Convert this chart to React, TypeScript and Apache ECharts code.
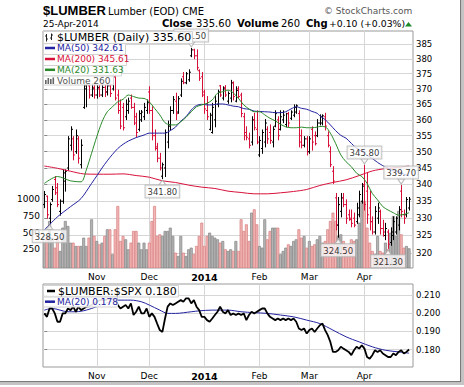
import React, { useEffect, useRef } from 'react';
import * as echarts from 'echarts';

const FONT = 'DejaVu Sans';

// x axis: trading-day index (Oct 4 2013 = 0 ... Apr 25 2014 = 139)
const monthTickIdx = [20, 40, 61, 82, 101, 122];
const monthTickLabels = ['Nov', 'Dec', '2014', 'Feb', 'Mar', 'Apr'];
const priceTicks = [320, 325, 330, 335, 340, 345, 350, 355, 360, 365, 370, 375, 380, 385];
const volumeTicks = [250, 500, 750, 1000];
const ratioTicks = [0.18, 0.19, 0.2, 0.21];

const opens = [
  334, 336.5, 330, 335.5, 341.5, 339, 332, 335, 341, 345,
  352, 354, 350, 354, 346, 364, 370, 371, 368, 370.5,
  368, 370, 368, 370.5, 369, 371, 370, 374, 368, 365,
  364, 361, 363, 367, 364, 361, 357, 360, 361, 363,
  369, 363, 355, 351, 348, 342.5, 345, 353, 358, 363,
  366, 362.5, 368, 374, 372, 373, 381, 383, 381, 376,
  374, 369, 363, 357, 356, 360, 365, 371, 367, 370.5,
  366, 367, 372, 366, 370, 368, 361, 356, 354, 353,
  360, 357, 349, 351, 353, 357, 356, 353, 358, 360,
  357, 360, 358.5, 362, 360.5, 361.5, 362.5, 362, 355, 352,
  354, 350, 357, 355, 355, 359, 359, 361, 355, 350,
  344, 336, 328, 332, 336, 334, 331, 330, 330, 329,
  331, 335, 340, 338, 333, 329, 326, 330, 332, 327,
  325, 326, 323, 325, 326, 328, 338, 331, 331, 333,
];
const highs = [
  337.9, 336.5, 334.5, 339.4, 342.4, 340.3, 335.4, 344.4, 344.4, 354.7,
  357.8, 354.7, 356.8, 354.7, 353.7, 371.7, 372.3, 371.1, 371.7, 371.7,
  371.1, 371.1, 371.7, 371.1, 371.7, 371.7, 374.6, 374.6, 369.6, 366.4,
  365.3, 366.4, 367, 368, 365.3, 362.1, 362.9, 363, 365.3, 366.4,
  370.7, 364.2, 356.8, 352.6, 349.5, 346.5, 356.8, 359.6, 364.2, 367.5,
  368.6, 367.5, 373.3, 375.4, 375.4, 376.3, 383.5, 383.2, 383, 376.3,
  375.4, 369.6, 367.5, 362.1, 365.3, 367.5, 369.6, 371.1, 370.7, 371.1,
  369, 372.8, 372.3, 370.7, 370.7, 368.6, 362.1, 357.8, 355.8, 361,
  362.1, 362.9, 354.7, 356.8, 360.1, 357.8, 358.4, 357.8, 362.9, 361,
  362.9, 362.9, 362.1, 362.4, 362.9, 364.8, 364.8, 362.9, 356.8, 354.7,
  354.7, 354.7, 357.8, 356.2, 360.1, 361.6, 361.6, 362.1, 356.2, 351.5,
  345.4, 337.3, 336.1, 337.3, 337.3, 335.4, 332.4, 332.4, 331.5, 334.4,
  338, 340.3, 345.8, 343.4, 338, 330.4, 333.4, 334.4, 332.4, 329.4,
  328.5, 326.6, 327.2, 330.4, 330.4, 333.4, 339.7, 332.4, 336.1, 336.1,
];
const lows = [
  333.1, 330, 328.5, 335, 337, 333.4, 330.9, 334.4, 338, 344.4,
  350.5, 347.5, 349.5, 346.5, 345, 363.7, 364.2, 367, 367.5, 367,
  367, 367.5, 367.5, 367.5, 368, 367.5, 369.6, 366.4, 362.1, 357.2,
  356.8, 360.1, 362.1, 363.7, 358.5, 354.7, 356.5, 359.5, 360.1, 362.1,
  362.1, 353.7, 350.5, 346.9, 344.4, 341.8, 342.4, 351.2, 356.8, 362.1,
  360.1, 362.1, 367.5, 371.7, 371.7, 372.5, 380.7, 380, 376.3, 372.8,
  367.5, 362.1, 360.1, 356.8, 355.8, 357.8, 364.2, 367.5, 366.4, 367.5,
  365.3, 365.8, 366.4, 365.8, 367, 361, 353.7, 353.7, 351.2, 352.1,
  356.8, 352.5, 348.5, 349.5, 351.5, 352.6, 352.6, 351.5, 357.8, 353.7,
  356.8, 359.1, 357.8, 357.8, 360.1, 361, 362.1, 351.5, 351.2, 351.5,
  349, 349.5, 350.5, 352.1, 354.7, 358.4, 358.4, 356.8, 351.5, 345.4,
  340.3, 326.6, 324.5, 330.4, 333.4, 328.5, 329.4, 327.5, 327.5, 328.5,
  330.4, 334.4, 332.4, 328.5, 326.6, 325.4, 325.4, 328.5, 325.4, 324.8,
  323.8, 321.3, 322.2, 323.8, 325.4, 326.6, 330.4, 328.5, 330.4, 332.4,
];
const closes = [
  337, 331, 334, 338.5, 337.5, 334, 335, 343.5, 344, 354,
  357, 349, 355, 348, 352, 371, 371.5, 368, 370, 368,
  370.5, 368, 370.5, 369, 371, 368.5, 374, 367, 363, 358,
  357.5, 365, 366, 364, 359, 356, 362, 362.5, 364, 365.5,
  363, 355, 351.5, 348, 345, 346, 356, 358.5, 363, 366.5,
  362, 366.8, 372.5, 372, 375, 375.5, 383, 381, 377, 373.5,
  368, 363.5, 361, 361.5, 364, 366, 369, 368, 370, 368,
  368.5, 372, 367.5, 369.5, 367.5, 362, 355, 354.5, 352, 360,
  357.5, 353, 353.5, 356, 359, 354, 353.5, 357, 362, 355,
  361, 361.5, 362, 359, 362.5, 364, 364.5, 353, 352, 354,
  350, 354, 353, 352.5, 359, 361, 361.3, 358, 352, 346,
  341, 328, 334, 336, 334, 330, 329.6, 328.5, 328, 333,
  337, 339.5, 334, 331, 329, 326, 332, 333, 327, 326,
  327, 322.5, 326, 329, 330, 332.5, 332, 330, 335.5, 335.6,
];
const volumes = [
  370, 420, 670, 420, 270, 420, 220, 570, 670, 595,
  345, 345, 295, 295, 295, 420, 295, 420, 695, 445,
  370, 320, 345, 445, 545, 545, 170, 545, 895, 370,
  445, 395, 245, 345, 520, 520, 345, 245, 345, 245,
  345, 670, 895, 445, 470, 445, 520, 520, 570, 445,
  195, 145, 445, 195, 145, 245, 270, 170, 295, 445,
  645, 295, 445, 495, 445, 420, 395, 345, 370, 245,
  220, 245, 220, 370, 220, 695, 520, 620, 370, 795,
  845, 620, 295, 270, 695, 395, 520, 570, 570, 570,
  170, 220, 270, 320, 295, 370, 395, 545, 420, 445,
  270, 370, 295, 320, 395, 445, 345, 370, 545, 670,
  795, 670, 445, 470, 370, 320, 320, 395, 370, 395,
  645, 970, 970, 570, 345, 220, 170, 445, 220, 195,
  345, 245, 495, 745, 445, 820, 470, 270, 295, 260,
];
// moving averages: [trading-day index, value]
const ma20 = [
  [0, 340.3], [5, 342.4], [10, 341.1], [14, 340.8], [16, 344.4], [18, 349.5], [20, 354.7],
  [22, 359.4], [24, 362.6], [26, 364.2], [28, 365.8], [30, 366.6], [32, 368.0], [34, 367.5],
  [36, 367.0], [38, 366.9], [40, 365.8], [42, 363.7], [44, 361.6], [46, 359.1], [48, 358.4],
  [50, 358.4], [52, 359.4], [54, 360.8], [56, 362.6], [58, 364.2], [60, 364.8], [62, 365.3],
  [64, 366.4], [66, 368.6], [68, 369.1], [70, 369.6], [72, 368.7], [74, 366.9], [76, 364.8],
  [78, 363.5], [80, 362.6], [82, 362.6], [84, 361.6], [86, 360.5], [88, 359.7], [90, 358.6],
  [92, 357.8], [94, 357.5], [96, 357.5], [98, 357.7], [100, 357.5], [102, 357.5], [104, 357.7],
  [105, 357.9], [107, 357.8], [109, 355.8], [111, 352.6], [113, 349.0], [115, 346.9],
  [117, 345.4], [119, 343.4], [121, 342.4], [123, 340.3], [125, 337.3], [127, 335.4],
  [129, 333.4], [131, 332.4], [133, 331.6], [135, 330.9], [137, 331.1], [139, 331.63],
];
const ma50 = [
  [0, 326.6], [5, 330.4], [10, 333.4], [14, 335.8], [18, 340.3], [20, 342.6], [22, 345.0],
  [24, 347.2], [26, 349.2], [28, 351.0], [30, 352.3], [32, 353.3], [35, 354.4], [38, 355.2],
  [40, 355.8], [44, 355.8], [46, 355.8], [48, 356.6], [50, 357.7], [52, 359.6], [54, 361.0],
  [56, 363.2], [58, 364.6], [60, 365.0], [62, 364.8], [64, 364.8], [66, 365.1], [68, 365.1],
  [70, 364.8], [72, 364.4], [74, 364.2], [76, 363.6], [78, 363.4], [80, 362.8], [82, 362.7],
  [84, 362.6], [86, 362.5], [88, 362.3], [90, 362.3], [92, 362.6], [94, 363.5], [96, 364.2],
  [98, 363.7], [100, 363.4], [102, 362.7], [104, 362.1], [105, 361.3], [107, 360.1],
  [109, 358.4], [111, 356.6], [113, 355.1], [115, 354.2], [117, 352.6], [119, 351.1],
  [121, 350.1], [123, 348.9], [125, 347.9], [127, 346.7], [129, 345.7], [131, 344.9],
  [133, 344.2], [135, 343.9], [137, 343.1], [139, 342.61],
];
const ma200 = [
  [0, 345.6], [5, 344.9], [10, 344.0], [15, 343.2], [20, 343.1], [25, 343.1], [30, 343.2],
  [35, 342.7], [40, 342.2], [45, 341.1], [50, 340.6], [55, 339.8], [60, 339.2], [65, 338.8],
  [70, 338.0], [75, 337.6], [80, 337.2], [85, 337.2], [90, 337.5], [95, 337.9], [100, 338.5],
  [105, 339.7], [110, 340.6], [115, 341.4], [120, 342.7], [125, 344.1], [130, 344.8],
  [135, 345.2], [139, 345.61],
];
const ratio = [
  0.1999, 0.198, 0.2026, 0.2026, 0.1999, 0.1953, 0.1953, 0.1999, 0.1999, 0.2026,
  0.2017, 0.2036, 0.2008, 0.2036, 0.2017, 0.2026, 0.2036, 0.2039, 0.2045, 0.2054,
  0.2063, 0.2072, 0.2072, 0.2072, 0.2076, 0.2082, 0.2082, 0.2072, 0.2045, 0.2026,
  0.2036, 0.2045, 0.2026, 0.2054, 0.199, 0.2008, 0.2036, 0.1999, 0.1999, 0.2026,
  0.198, 0.1999, 0.198, 0.1943, 0.1907, 0.1897, 0.1971, 0.2036, 0.2054, 0.2045,
  0.2054, 0.2063, 0.2072, 0.2063, 0.2082, 0.2082, 0.2054, 0.2072, 0.2036, 0.2017,
  0.198, 0.198, 0.1962, 0.1953, 0.1971, 0.199, 0.2008, 0.2036, 0.2008, 0.1999,
  0.2017, 0.199, 0.1999, 0.199, 0.1999, 0.199, 0.1999, 0.1962, 0.199, 0.2008,
  0.1999, 0.2008, 0.2017, 0.2026, 0.2026, 0.1999, 0.198, 0.1971, 0.1962, 0.1971,
  0.1962, 0.1971, 0.1962, 0.1971, 0.1962, 0.1971, 0.1953, 0.1916, 0.1907, 0.1916,
  0.1888, 0.1907, 0.1916, 0.1897, 0.1916, 0.1934, 0.1943, 0.1907, 0.1879, 0.1842,
  0.1787, 0.1787, 0.1796, 0.1815, 0.1805, 0.1796, 0.1787, 0.1769, 0.1796, 0.1815,
  0.1805, 0.1824, 0.1805, 0.1759, 0.175, 0.1769, 0.1796, 0.1787, 0.1796, 0.1778,
  0.1769, 0.1759, 0.1759, 0.1778, 0.1769, 0.1787, 0.1796, 0.1778, 0.1787, 0.18,
];
const ratioMa20 = [
  [0, 0.2017], [3, 0.2026], [9, 0.2008], [12, 0.2008], [16, 0.2017], [20, 0.2036],
  [28, 0.2072], [33, 0.2072], [37, 0.2063], [40, 0.2045], [44, 0.2017], [47, 0.1999],
  [50, 0.1999], [56, 0.2008], [59, 0.2013], [64, 0.2017], [70, 0.2017], [75, 0.2008],
  [80, 0.2003], [85, 0.1999], [90, 0.199], [95, 0.198], [100, 0.1962], [105, 0.1943],
  [110, 0.1907], [115, 0.187], [120, 0.1842], [125, 0.1815], [130, 0.1796], [135, 0.1787],
  [139, 0.178],
];
const highLabelIdx = [56, 122, 136];
const lowLabelIdx = [2, 45, 112, 131];

const PRICE_MIN = 315.78;
const PRICE_MAX = 389.45;
const VOL_MIN = -30;
const VOL_MAX = 3525;
const RATIO_MIN = 0.17039;
const RATIO_MAX = 0.21608;

const C_UP = '#000000';
const C_DOWN = '#d8113a';
const C_MA50 = '#2323a0';
const C_MA200 = '#d8113a';
const C_MA20 = '#2a8a2a';
const GRIDLINE = '#d6d6d6';

const L = Math.log;

function xAxisFor(gridIndex: number) {
  return {
    type: 'value',
    gridIndex,
    min: -0.5,
    max: 140.5,
    axisLine: { show: false },
    axisTick: { show: false, customValues: monthTickIdx },
    axisLabel: {
      customValues: monthTickIdx,
      margin: 4,
      fontSize: 9,
      fontFamily: FONT,
      color: '#000',
      formatter: (v: number) => {
        const k = monthTickIdx.indexOf(Math.round(v));
        if (k < 0) return '';
        const s = monthTickLabels[k];
        return s === '2014' ? '{b|2014}' : s;
      },
      rich: { b: { fontWeight: 'bold', fontSize: 9.5, fontFamily: FONT, color: '#000' } },
    },
    splitLine: { show: true, lineStyle: { color: GRIDLINE, width: 1 } },
  };
}

function txt(x: number, y: number, s: string, size: number, color = '#000', weight = 'normal', family = FONT) {
  return {
    type: 'text',
    z: 100,
    x,
    y,
    style: {
      text: s,
      fill: color,
      font: `${weight} ${size}px "${family}"`,
      align: 'left',
      verticalAlign: 'middle',
      textAlign: 'left',
      textVerticalAlign: 'middle',
    },
  };
}
function box(x: number, y: number, w: number, h: number) {
  return {
    type: 'rect',
    z: 99,
    shape: { x, y, width: w, height: h },
    style: { fill: 'rgba(255,255,255,0.88)', stroke: '#d2d2d2', lineWidth: 1 },
  };
}
function ln(x1: number, y1: number, x2: number, y2: number, color: string, width = 1) {
  return { type: 'line', z: 100, shape: { x1, y1, x2, y2 }, style: { stroke: color, lineWidth: width } };
}
function solid(x: number, y: number, w: number, h: number, fill: string, z = 100) {
  return { type: 'rect', z, shape: { x, y, width: w, height: h }, style: { fill } };
}

function buildOption() {
  const ohlcData = closes.map((c, i) => [
    i, L(opens[i]), L(highs[i]), L(lows[i]), L(c), i === 0 || c >= closes[i - 1] ? 1 : 0,
  ]);
  const volData = volumes.map((v, i) => [i, v, i === 0 || closes[i] >= closes[i - 1] ? 1 : 0]);
  const maLine = (name: string, arr: number[][], color: string) => ({
    name,
    type: 'line',
    xAxisIndex: 0,
    yAxisIndex: 0,
    data: arr.map(([i, v]) => [i, L(v)]),
    showSymbol: false,
    symbol: 'none',
    smooth: 0.3,
    lineStyle: { color, width: 1 },
    z: 4,
    silent: true,
  });
  const labelStyle = {
    show: true,
    fontSize: 8.5,
    fontFamily: FONT,
    color: '#000',
    backgroundColor: 'rgba(255,255,255,0.92)',
    borderColor: '#b4b4b4',
    borderWidth: 1,
    padding: [2, 2, 1, 2],
    formatter: (p: any) => Number(p.value[2]).toFixed(2),
  };

  const graphicEls: any[] = [
    // header
    txt(43, 10.5, '$LUMBER', 13, '#000', 'bold', 'Liberation Sans'),
    txt(108, 11, 'Lumber (EOD) CME', 10),
    txt(43, 23.8, '25-Apr-2014', 9),
    txt(162, 23.8, 'Close', 10, '#000', 'bold'),
    txt(196, 23.8, '335.60', 10),
    txt(237, 23.8, 'Volume', 10, '#000', 'bold'),
    txt(281, 23.8, '260', 10),
    txt(306, 23.8, 'Chg', 10, '#000', 'bold'),
    txt(329, 23.8, '+0.10 (+0.03%)', 9.3),
    { type: 'polygon', z: 100, shape: { points: [[405, 26.5], [412, 26.5], [408.5, 22]] }, style: { fill: '#1f8a2a' } },
    txt(324, 11, '\u00A9 StockCharts.com', 9, '#555'),
    // main legend
    box(43.5, 31.5, 149, 12),
    ln(46.5, 34, 46.5, 41.5, '#222'), ln(45, 36, 46.5, 36, '#222'), ln(46.5, 39, 48, 39, '#222'),
    ln(51.5, 33.5, 51.5, 40, '#222'), ln(50, 38, 51.5, 38, '#222'), ln(51.5, 35, 53, 35, '#222'),
    txt(57, 37.8, '$LUMBER (Daily) 335.60', 11),
    box(43.5, 43.5, 82, 11),
    ln(45, 48, 55, 48, C_MA50, 2.5),
    txt(57, 48.3, 'MA(50) 342.61', 9, C_MA50),
    box(43.5, 54.5, 83, 11),
    ln(45, 59, 55, 59, C_MA200, 2.5),
    txt(57, 59.2, 'MA(200) 345.61', 9, C_MA200),
    box(43.5, 65.5, 78, 10.5),
    ln(45, 69.8, 55, 69.8, C_MA20, 2.5),
    txt(57, 70, 'MA(20) 331.63', 9, C_MA20),
    box(43.5, 76, 70, 9),
    solid(45, 80, 1.6, 4, '#666'), solid(47.5, 78, 1.6, 6, '#666'), solid(50, 79, 1.6, 5, '#666'), solid(52.5, 77.5, 1.6, 6.5, '#666'),
    txt(57, 80.5, 'Volume 260', 9, '#555'),
    // lower legend
    box(43.5, 285.5, 135, 11.5),
    ln(47, 291, 55, 291, '#000', 2.5),
    txt(58, 291.3, '$LUMBER:$SPX 0.180', 11),
    box(43.5, 297, 74, 10),
    ln(45, 301.7, 55, 301.7, C_MA50, 2.5),
    txt(57, 302, 'MA(20) 0.178', 9, C_MA50),
    // outer shadow frame
    solid(460, 0, 1.5, 382, '#7a7a7a'), solid(461.5, 0, 2.5, 384, '#c4c4c4'),
    solid(0, 381, 461, 1.5, '#7a7a7a'), solid(0, 382.5, 464, 2.5, '#c4c4c4'),
  ];

  return {
    animation: false,
    backgroundColor: '#ffffff',
    textStyle: { fontFamily: FONT },
    grid: [
      { left: 43, top: 31, width: 370, height: 237, show: true, borderColor: '#9a9a9a', borderWidth: 1, backgroundColor: 'transparent', containLabel: false, outerBoundsMode: 'none' },
      { left: 43, top: 284, width: 370, height: 83, show: true, borderColor: '#9a9a9a', borderWidth: 1, backgroundColor: 'transparent', containLabel: false, outerBoundsMode: 'none' },
    ],
    xAxis: [xAxisFor(0), xAxisFor(1)],
    yAxis: [
      {
        type: 'value',
        gridIndex: 0,
        position: 'right',
        min: L(PRICE_MIN),
        max: L(PRICE_MAX),
        axisLine: { show: false },
        axisTick: { show: true, length: 3, inside: false, customValues: priceTicks.map(L), lineStyle: { color: '#888' } },
        axisLabel: {
          customValues: priceTicks.map(L),
          margin: 3,
          fontSize: 8.5,
          fontFamily: FONT,
          color: '#000',
          formatter: (v: number) => String(Math.round(Math.exp(v))),
        },
        splitLine: { show: true, lineStyle: { color: GRIDLINE, width: 1 } },
      },
      {
        type: 'value',
        gridIndex: 0,
        position: 'left',
        min: VOL_MIN,
        max: VOL_MAX,
        axisLine: { show: false },
        axisTick: { show: false, customValues: volumeTicks },
        axisLabel: {
          customValues: volumeTicks,
          margin: 3,
          fontSize: 9,
          fontFamily: FONT,
          color: '#000',
          formatter: (v: number) => String(Math.round(v)),
        },
        splitLine: { show: false },
      },
      {
        type: 'value',
        gridIndex: 1,
        position: 'right',
        min: RATIO_MIN,
        max: RATIO_MAX,
        axisLine: { show: false },
        axisTick: { show: true, length: 3, customValues: ratioTicks, lineStyle: { color: '#888' } },
        axisLabel: {
          customValues: ratioTicks,
          margin: 3,
          fontSize: 8.5,
          fontFamily: FONT,
          color: '#000',
          formatter: (v: number) => v.toFixed(3),
        },
        splitLine: { show: true, lineStyle: { color: GRIDLINE, width: 1 } },
      },
    ],
    series: [
      {
        name: 'Volume',
        type: 'custom',
        xAxisIndex: 0,
        yAxisIndex: 1,
        z: 1,
        silent: true,
        clip: true,
        encode: { x: 0, y: 1 },
        data: volData,
        renderItem: (params: any, api: any) => {
          const i = api.value(0);
          const v = api.value(1);
          const up = api.value(2) > 0;
          const top = api.coord([i, v]);
          const bot = api.coord([i, VOL_MIN]);
          const w = api.size([1, 0])[0];
          return {
            type: 'rect',
            shape: { x: top[0] - w / 2 + 0.2, y: top[1], width: w - 0.4, height: bot[1] - top[1] },
            style: {
              fill: up ? '#b4b4b4' : '#f2b6b6',
              stroke: up ? '#858585' : '#d98080',
              lineWidth: 0.7,
            },
          };
        },
      },
      maLine('MA(200)', ma200, C_MA200),
      {
        name: '$LUMBER',
        type: 'custom',
        xAxisIndex: 0,
        yAxisIndex: 0,
        z: 3,
        silent: true,
        clip: true,
        encode: { x: 0, y: [1, 2, 3, 4] },
        data: ohlcData,
        renderItem: (params: any, api: any) => {
          const i = api.value(0);
          const up = api.value(5) > 0;
          const color = up ? C_UP : C_DOWN;
          const ph = api.coord([i, api.value(2)]);
          const pl = api.coord([i, api.value(3)]);
          const po = api.coord([i, api.value(1)]);
          const pc = api.coord([i, api.value(4)]);
          const x = Math.round(ph[0]) + 0.5;
          const st = { stroke: color, lineWidth: 1 };
          return {
            type: 'group',
            children: [
              { type: 'line', shape: { x1: x, y1: ph[1] - 0.5, x2: x, y2: pl[1] + 0.5 }, style: st },
              { type: 'line', shape: { x1: x - 1.5, y1: po[1], x2: x, y2: po[1] }, style: st },
              { type: 'line', shape: { x1: x, y1: pc[1], x2: x + 1.5, y2: pc[1] }, style: st },
            ],
          };
        },
      },
      maLine('MA(50)', ma50, C_MA50),
      maLine('MA(20)', ma20, C_MA20),
      {
        name: 'highLabels',
        type: 'scatter',
        xAxisIndex: 0,
        yAxisIndex: 0,
        z: 6,
        silent: true,
        data: highLabelIdx.map((i) => [i, L(highs[i]), highs[i]]),
        symbol: 'path://M0 0L8 0L4 6Z',
        symbolSize: [7, 5],
        symbolOffset: [0, -4],
        itemStyle: { color: '#fff', borderColor: '#a8a8a8', borderWidth: 1 },
        label: { ...labelStyle, position: 'top', distance: 0 },
      },
      {
        name: 'lowLabels',
        type: 'scatter',
        xAxisIndex: 0,
        yAxisIndex: 0,
        z: 6,
        silent: true,
        data: lowLabelIdx.map((i) => [i, L(lows[i]), lows[i]]),
        symbol: 'path://M4 0L8 6L0 6Z',
        symbolSize: [7, 5],
        symbolOffset: [0, 4],
        itemStyle: { color: '#fff', borderColor: '#a8a8a8', borderWidth: 1 },
        label: { ...labelStyle, position: 'bottom', distance: 0 },
      },
      {
        name: '$LUMBER:$SPX',
        type: 'line',
        xAxisIndex: 1,
        yAxisIndex: 2,
        data: ratio.map((v, i) => [i, v]),
        showSymbol: false,
        symbol: 'none',
        lineStyle: { color: '#000', width: 1.8 },
        z: 4,
        silent: true,
      },
      {
        name: 'MA(20) ratio',
        type: 'line',
        xAxisIndex: 1,
        yAxisIndex: 2,
        data: ratioMa20,
        showSymbol: false,
        symbol: 'none',
        smooth: 0.3,
        lineStyle: { color: C_MA50, width: 1 },
        z: 3,
        silent: true,
      },
    ],
    graphic: { elements: graphicEls },
  };
}

export default function App() {
  const ref = useRef<HTMLDivElement>(null);
  useEffect(() => {
    if (!ref.current) return;
    const chart = echarts.init(ref.current, null, { renderer: 'svg' });
    chart.setOption(buildOption() as any);
    return () => {
      chart.dispose();
    };
  }, []);
  return (
    <div
      ref={ref}
      style={{ position: 'absolute', left: 0, top: 0, width: 464, height: 387, background: '#fff' }}
    />
  );
}
